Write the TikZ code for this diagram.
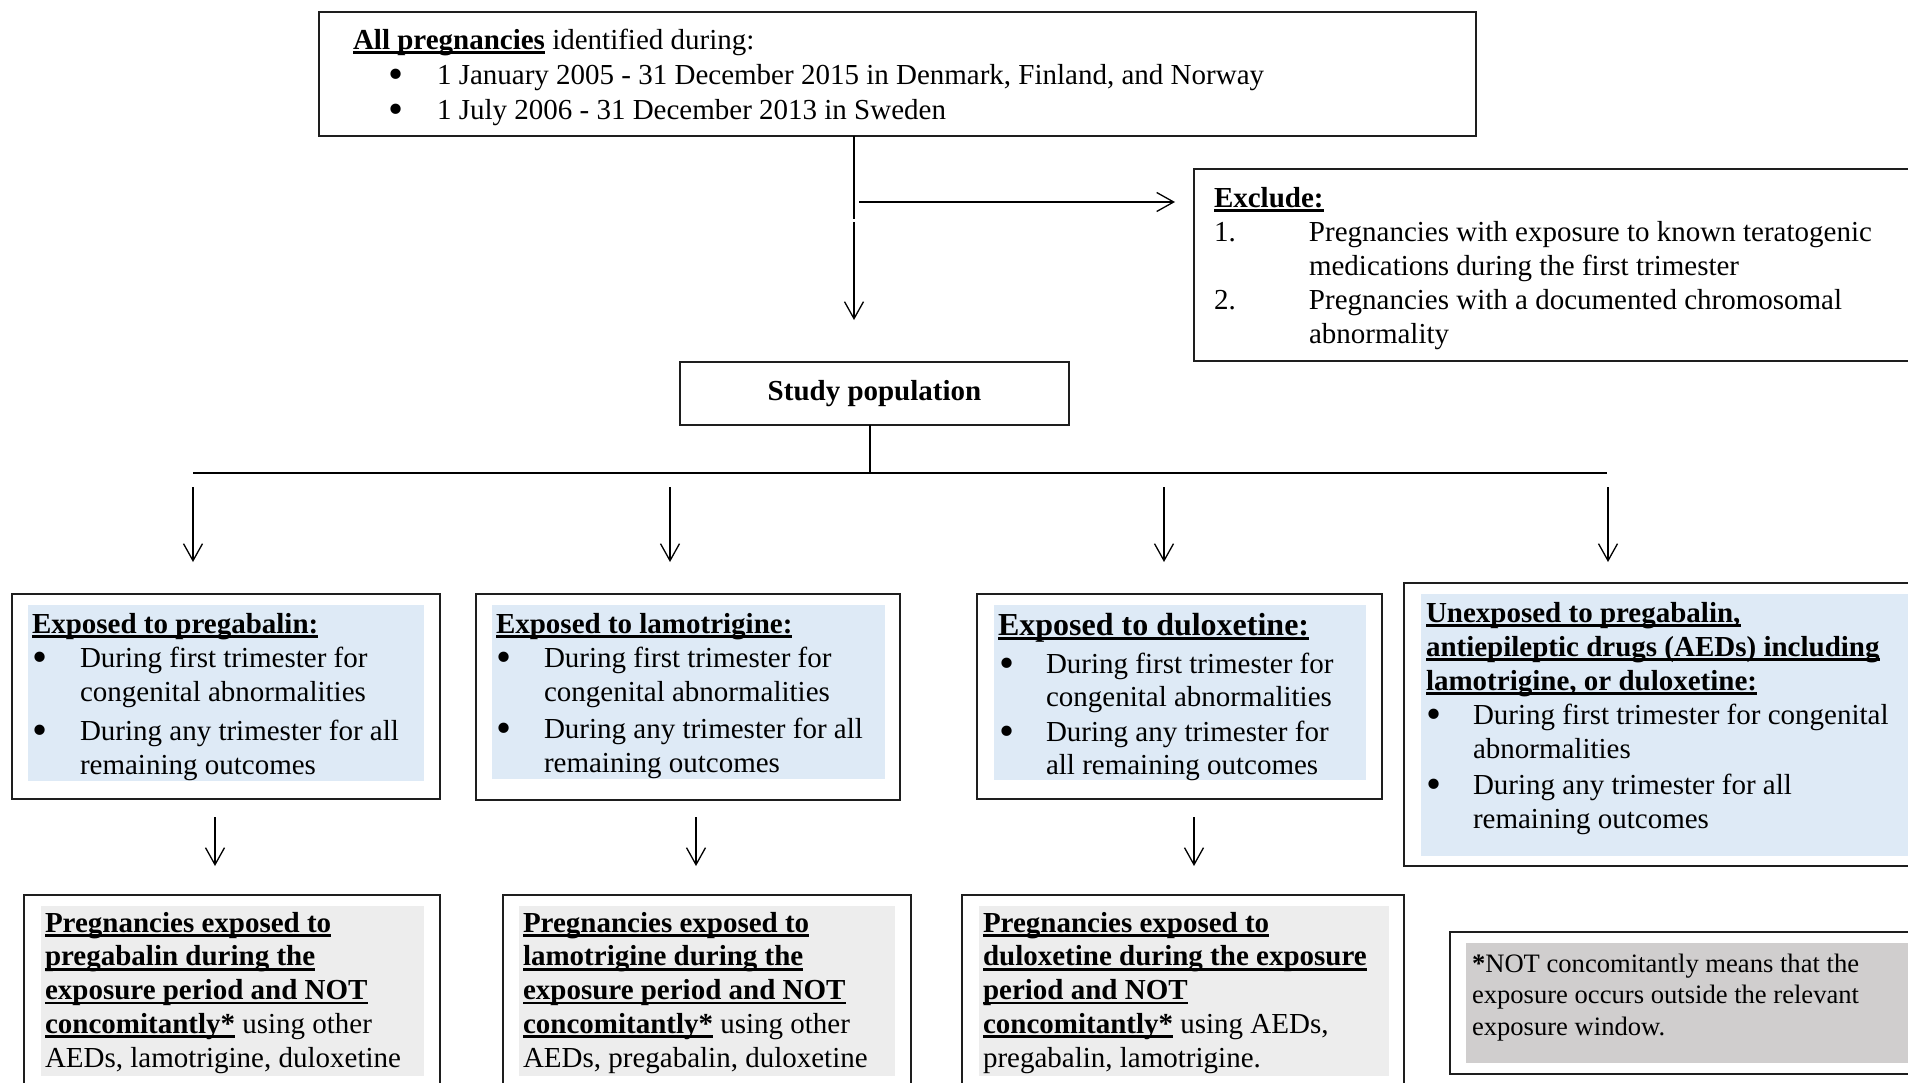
\documentclass[tikz,border=0pt]{standalone}
\usepackage{fontspec}
\setmainfont{Liberation Serif}
\usetikzlibrary{arrows.meta}
\definecolor{bluefill}{HTML}{DEEAF6}
\definecolor{greyfill}{HTML}{EDEDED}
\definecolor{notefill}{HTML}{D0CECE}
\definecolor{frameline}{HTML}{1E1E1E}
\newcommand{\bigbul}{\smash{\raisebox{-4pt}{\fontsize{43}{43}\selectfont\textbullet}}}
\newcommand{\bu}{\makebox[48pt][l]{\bigbul}}
\newcommand{\bux}{\makebox[47pt][l]{\bigbul}}
\newcommand{\ind}{\hspace*{48pt}}
\newcommand{\indx}{\hspace*{47pt}}
\newcommand{\hb}[1]{{\bfseries\setbox0\hbox{#1}\leavevmode\rlap{\rule[-4.8pt]{\wd0}{2.7pt}}\box0}}
\begin{document}
\begin{tikzpicture}[x=1pt,y=-1pt,
  frame/.style={draw=frameline, line width=2.2pt, inner sep=0pt, outer sep=0pt, anchor=north west},
  panel/.style={draw=none, inner sep=0pt, outer sep=0pt, anchor=north west},
  txt/.style={anchor=base west, inner sep=0pt, outer sep=0pt, align=left, font=\fontsize{29}{33}\selectfont},
  conn/.style={line width=1.3pt, draw=black},
  arr/.style={conn, -{Straight Barb[length=17pt,width=19pt]}}
]
\useasboundingbox (0,0) rectangle (1908,1082);

% ---------- frames ----------
\node[frame, minimum width=1157pt, minimum height=124pt] (top) at (319,12) {};
\node[frame, minimum width=730pt, minimum height=192pt] (excl) at (1194,169) {};
\node[frame, minimum width=389pt, minimum height=63pt, font=\fontsize{29}{33}\selectfont\bfseries] (study) at (680,362) {Study population};

\node[frame, minimum width=428pt, minimum height=205pt] (fA) at (12,594) {};
\node[frame, minimum width=424pt, minimum height=206pt] (fB) at (476,594) {};
\node[frame, minimum width=405pt, minimum height=205pt] (fE) at (977,594) {};
\node[frame, minimum width=520pt, minimum height=283pt] (fF) at (1404,583) {};

\node[frame, minimum width=416pt, minimum height=220pt] (fC) at (24,895) {};
\node[frame, minimum width=408pt, minimum height=220pt] (fD) at (503,895) {};
\node[frame, minimum width=442pt, minimum height=220pt] (fG) at (962,895) {};
\node[frame, minimum width=480pt, minimum height=142pt] (fH) at (1450,932) {};

% ---------- shaded panels ----------
\node[panel, fill=bluefill, minimum width=396pt, minimum height=176pt] (pA) at (28,605) {};
\node[panel, fill=bluefill, minimum width=393pt, minimum height=174pt] (pB) at (492,605) {};
\node[panel, fill=bluefill, minimum width=372pt, minimum height=175pt] (pE) at (994,605) {};
\node[panel, fill=bluefill, minimum width=500pt, minimum height=262pt] (pF) at (1421,594) {};
\node[panel, fill=greyfill, minimum width=383pt, minimum height=170pt] (pC) at (41,906) {};
\node[panel, fill=greyfill, minimum width=376pt, minimum height=170pt] (pD) at (519,906) {};
\node[panel, fill=greyfill, minimum width=410pt, minimum height=170pt] (pG) at (979,906) {};
\node[panel, fill=notefill, minimum width=460pt, minimum height=120pt] (pH) at (1466,943) {};

% ---------- texts (anchored at the baseline of the last line) ----------
\node[txt, font=\fontsize{29}{35}\selectfont] (ttop) at (353,119) {\hb{All pregnancies} identified during:\\
\hspace*{35pt}\makebox[49pt][l]{\bigbul}1 January 2005 - 31 December 2015 in Denmark, Finland, and Norway\\
\hspace*{35pt}\makebox[49pt][l]{\bigbul}1 July 2006 - 31 December 2013 in Sweden};

\node[txt, font=\fontsize{29}{34}\selectfont] (texcl) at (1214,343) {\hb{Exclude:}\\
\makebox[95pt][l]{1.}Pregnancies with exposure to known teratogenic\\
\hspace*{95pt}medications during the first trimester\\
\makebox[95pt][l]{2.}Pregnancies with a documented chromosomal\\
\hspace*{95pt}abnormality};

\node[txt, font=\fontsize{29}{34}\selectfont] (tA) at (32,774) {\hb{Exposed to pregabalin:}\\
\bu During first trimester for\\
\ind congenital abnormalities\\[5pt]
\bu During any trimester for all\\
\ind remaining outcomes};

\node[txt, font=\fontsize{29}{34}\selectfont] (tB) at (496,772) {\hb{Exposed to lamotrigine:}\\
\bu During first trimester for\\
\ind congenital abnormalities\\[3pt]
\bu During any trimester for all\\
\ind remaining outcomes};

\node[txt, font=\fontsize{32}{36}\selectfont] (tEh) at (998,635) {\hb{Exposed to duloxetine:}};
\node[txt] (tE) at (999,774) {\bux During first trimester for\\
\indx congenital abnormalities\\[2pt]
\bux During any trimester for\\
\indx all remaining outcomes};

\node[txt, font=\fontsize{29}{34}\selectfont] (tF) at (1426,828) {\hb{Unexposed to pregabalin,}\\
\hb{antiepileptic drugs (AEDs) including}\\
\hb{lamotrigine, or duloxetine:}\\
\bux During first trimester for congenital\\
\indx abnormalities\\[2pt]
\bux During any trimester for all\\
\indx remaining outcomes};

\node[txt, font=\fontsize{29}{33.75}\selectfont] (tC) at (45,1067) {\hb{Pregnancies exposed to}\\
\hb{pregabalin during the}\\
\hb{exposure period and NOT}\\
\hb{concomitantly*} using other\\
AEDs, lamotrigine, duloxetine};

\node[txt, font=\fontsize{29}{33.75}\selectfont] (tD) at (523,1067) {\hb{Pregnancies exposed to}\\
\hb{lamotrigine during the}\\
\hb{exposure period and NOT}\\
\hb{concomitantly*} using other\\
AEDs, pregabalin, duloxetine};

\node[txt, font=\fontsize{29}{33.75}\selectfont] (tG) at (983,1067) {\hb{Pregnancies exposed to}\\
\hb{duloxetine during the exposure}\\
\hb{period and NOT}\\
\hb{concomitantly*} using AEDs,\\
pregabalin, lamotrigine.};

\node[txt, font=\fontsize{26.6}{31.5}\selectfont] (tH) at (1472,1035) {\textbf{*}NOT concomitantly means that the\\
exposure occurs outside the relevant\\
exposure window.};

% ---------- connectors ----------
\coordinate (v1) at (854,219);
\coordinate (v2) at (854,222);
\coordinate (v3) at (854,320);
\coordinate (h0) at (859,202);
\draw[conn] (top.south -| v1) -- (v1);
\draw[arr] (v2) -- (v3);
\draw[arr, shorten >=19pt] (h0) -- (h0 -| excl.west);

\coordinate (b0) at (870,473);
\coordinate (bl) at (193,473);
\coordinate (br) at (1607,473);
\draw[conn] (study.south -| b0) -- (b0);
\draw[conn] (bl) -- (br);

\coordinate (a1s) at (193,487);  \coordinate (a1e) at (193,562);
\coordinate (a2s) at (670,487);  \coordinate (a2e) at (670,562);
\coordinate (a3s) at (1164,487); \coordinate (a3e) at (1164,562);
\coordinate (a4s) at (1608,487); \coordinate (a4e) at (1608,562);
\draw[arr] (a1s) -- (a1e);
\draw[arr] (a2s) -- (a2e);
\draw[arr] (a3s) -- (a3e);
\draw[arr] (a4s) -- (a4e);

\coordinate (c1s) at (215,817);  \coordinate (c1e) at (215,866);
\coordinate (c2s) at (696,817);  \coordinate (c2e) at (696,866);
\coordinate (c3s) at (1194,817); \coordinate (c3e) at (1194,866);
\draw[arr] (c1s) -- (c1e);
\draw[arr] (c2s) -- (c2e);
\draw[arr] (c3s) -- (c3e);
\end{tikzpicture}
\end{document}
